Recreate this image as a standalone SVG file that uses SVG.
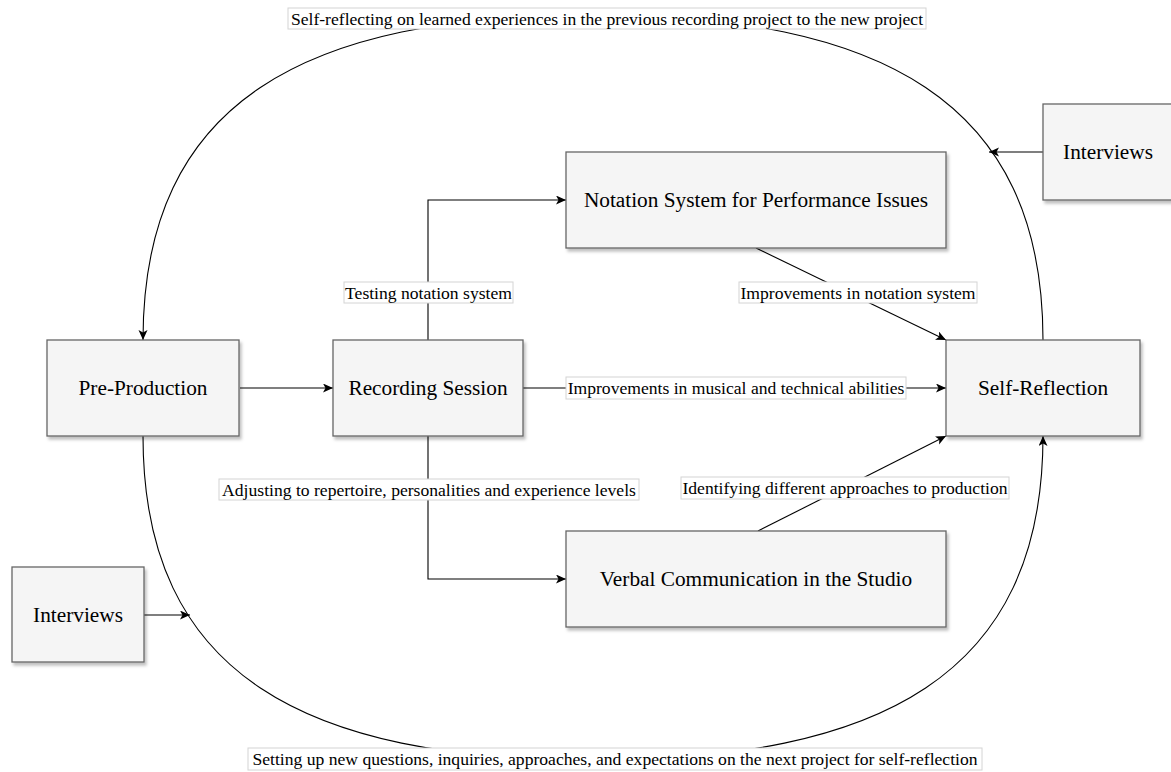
<svg xmlns="http://www.w3.org/2000/svg" width="1171" height="772" viewBox="0 0 1171 772">
<defs>
<style>
.node rect{fill:#f5f5f5;stroke:#666666;stroke-width:1.3;filter:url(#sh)}
.node text{font-family:"Liberation Serif","Times New Roman",serif;font-size:21.3px;fill:#000;text-anchor:middle;dominant-baseline:central}
.edge{fill:none;stroke:#000;stroke-width:1.1}
.arr{marker-end:url(#ah)}
.lbl rect{fill:#fff;stroke:#d4d4d4;stroke-width:1}
.lbl text{font-family:"Liberation Serif","Times New Roman",serif;font-size:17.6px;fill:#000;text-anchor:middle;dominant-baseline:central}
</style>
<filter id="sh" x="-10%" y="-10%" width="130%" height="130%">
<feDropShadow dx="2" dy="3" stdDeviation="1.5" flood-color="#000" flood-opacity="0.25"/>
</filter>
<marker id="ah" markerUnits="userSpaceOnUse" markerWidth="12" markerHeight="10" refX="10" refY="4.5" orient="auto">
<path d="M0,0 L10,4.5 L0,9 L2.5,4.5 Z" fill="#000"/>
</marker>
</defs>
<rect width="1171" height="772" fill="#fff"/>
<g id="connectors">
<path class="edge arr" d="M240,388 L333,388"/>
<path class="edge arr" d="M428,340 L428,200 L566,200"/>
<path class="edge arr" d="M428,436 L428,579 L566,579"/>
<path class="edge arr" d="M522,388 L946,388"/>
<path class="edge arr" d="M756,248 L946,340"/>
<path class="edge arr" d="M758,531 L946,436"/>
<path class="edge arr" d="M1043,340 C1043,100 880,15 593,15 C306,15 143,100 143,340"/>
<path class="edge arr" d="M143,436 C143,676 306,760 593,760 C880,760 1043,676 1043,436"/>
<path class="edge arr" d="M1043,152 L989,152"/>
<path class="edge arr" d="M144,615 L190,615"/>
<g class="lbl">
<rect x="344" y="282" width="169" height="21"/><text x="428.5" y="292.5">Testing notation system</text>
<rect x="219" y="479" width="420" height="21"/><text x="429" y="489.5">Adjusting to repertoire, personalities and experience levels</text>
<rect x="566" y="377" width="340" height="22"/><text x="736" y="388">Improvements in musical and technical abilities</text>
<rect x="739" y="282" width="238" height="21"/><text x="858" y="292.5">Improvements in notation system</text>
<rect x="681" y="477" width="328" height="22"/><text x="845" y="488">Identifying different approaches to production</text>
<rect x="288" y="8" width="638" height="21"/><text x="607" y="18.5">Self-reflecting on learned experiences in the previous recording project to the new project</text>
<rect x="248" y="748" width="734" height="22"/><text x="615" y="759">Setting up new questions, inquiries, approaches, and expectations on the next project for self-reflection</text>
</g>
</g>
<g id="pre-production" class="node"><rect x="47" y="340" width="192" height="96"/><text x="143" y="388">Pre-Production</text></g>
<g id="recording-session" class="node"><rect x="333" y="340" width="190" height="96"/><text x="428" y="388">Recording Session</text></g>
<g id="notation-system" class="node"><rect x="566" y="152" width="380" height="96"/><text x="756" y="200">Notation System for Performance Issues</text></g>
<g id="self-reflection" class="node"><rect x="946" y="340" width="194" height="96"/><text x="1043" y="388">Self-Reflection</text></g>
<g id="verbal-communication" class="node"><rect x="566" y="531" width="380" height="96"/><text x="756" y="579">Verbal Communication in the Studio</text></g>
<g id="interviews-right" class="node"><rect x="1043" y="104" width="140" height="96"/><text x="1108" y="152">Interviews</text></g>
<g id="interviews-left" class="node"><rect x="12" y="567" width="132" height="95"/><text x="78" y="615">Interviews</text></g>
</svg>
